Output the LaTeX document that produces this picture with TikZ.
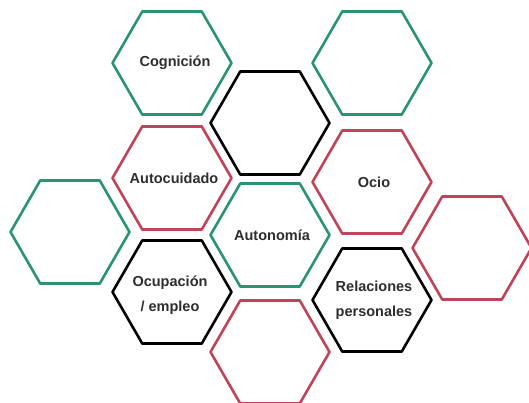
\documentclass[tikz,border=0pt]{standalone}
\usepackage{fontspec}
\setmainfont{Liberation Sans}
\usetikzlibrary{shapes.geometric}
\definecolor{hexgreen}{RGB}{42,148,112}
\definecolor{hexred}{RGB}{192,67,90}
\definecolor{hextext}{RGB}{45,45,45}
\tikzset{
	hex/.style={regular polygon, regular polygon sides=6, minimum size=119pt, inner sep=0pt, line width=2.6pt, line join=round},
	hgreen/.style={hex, draw=hexgreen},
	hred/.style={hex, draw=hexred},
	hblack/.style={hex, draw=black},
	hlabel/.style={text=hextext, font=\bfseries\fontsize{14.5}{25}\selectfont, align=center, inner sep=0pt}
}

\begin{document}
\begin{tikzpicture}[x=1pt, y=-1pt]
			%%%%% START %%%%%
			
			\useasboundingbox (0, 0) rectangle (529, 403);
			
			\node[hgreen] (cognicion) at (172, 63) {};
			\node[hblack] (topmid) at (270, 123) {};
			\node[hgreen] (topright) at (372, 63) {};
			
			\node[hred] (autocuidado) at (172, 178) {};
			\node[hred] (ocio) at (372, 182) {};
			
			\node[hgreen] (left) at (70, 232) {};
			\node[hgreen] (autonomia) at (270, 235) {};
			\node[hred] (right) at (472, 248) {};
			
			\node[hblack] (ocupacion) at (172, 292) {};
			\node[hblack] (relaciones) at (372, 300) {};
			\node[hred] (bottom) at (270, 352) {};
			
			% texts
			\node[hlabel] (t-cognicion) at ([xshift=3pt]cognicion) {Cognición};
			\node[hlabel] (t-autocuidado) at ([xshift=2pt]autocuidado) {Autocuidado};
			\node[hlabel] (t-ocio) at ([xshift=2pt]ocio) {Ocio};
			\node[hlabel] (t-autonomia) at ([xshift=2pt]autonomia) {Autonomía};
			\node[hlabel] (t-ocupacion) at ([xshift=-2pt,yshift=-3pt]ocupacion) {Ocupación\\/ empleo};
			\node[hlabel] (t-relaciones) at ([xshift=2pt]relaciones) {Relaciones\\personales};
			
			%%%%% END %%%%%
		\end{tikzpicture}
\end{document}
